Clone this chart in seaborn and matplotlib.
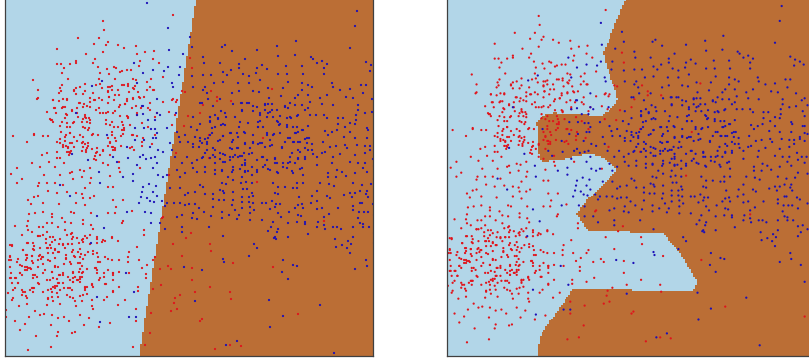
import matplotlib
matplotlib.use('Agg')
import matplotlib.pyplot as plt
from matplotlib.colors import ListedColormap
from matplotlib.path import Path
import pandas as pd
import seaborn as sb
import numpy as np

# points as (x, y) in pixels
red_points = [
    (173,15),(103,21),(104,30),(78,38),(99,38),(108,42),(106,45),(94,44),(118,45),(136,46),(57,49),(124,48),(86,54),(103,52),
    (137,54),(145,52),(154,51),(95,59),(93,63),(76,61),(76,63),(70,64),(57,64),(61,64),(64,68),(98,67),(114,67),(116,68),
    (107,69),(127,70),(131,70),(122,71),(120,72),(153,59),(159,63),(140,61),(139,66),(100,73),(62,73),(109,74),(68,79),(33,80),
    (99,79),(115,79),(133,79),(136,80),(151,79),(163,77),(38,90),(62,85),(61,91),(59,93),(60,88),(74,91),(76,88),(80,87),
    (85,84),(96,85),(100,84),(110,87),(108,91),(112,90),(122,85),(128,84),(135,86),(134,89),(129,92),(138,92),(147,90),(154,90),
    (37,99),(38,98),(53,100),(59,101),(63,99),(67,99),(80,103),(84,104),(90,98),(94,100),(99,98),(109,97),(114,100),(119,95),
    (127,101),(125,104),(133,99),(139,97),(144,97),(150,103),(163,102),(172,100),(176,102),(47,112),(54,108),(62,108),(63,107),
    (72,110),(77,108),(87,106),(90,107),(99,108),(108,112),(113,113),(119,107),(127,116),(136,106),(137,115),(141,108),(150,110),
    (157,113),(169,112),(51,120),(50,119),(53,122),(66,114),(65,118),(85,115),(83,119),(78,117),(74,122),(96,110),(100,113),
    (106,113),(120,116),(123,125),(128,117),(124,128),(60,126),(67,123),(70,127),(82,122),(86,118),(90,120),(90,123),(83,127),
    (106,120),(106,124),(110,125),(114,127),(118,127),(124,130),(148,127),(155,117),(175,115),(172,125),(13,136),(34,134),(48,136),
    (61,132),(66,135),(70,133),(74,137),(80,135),(85,128),(88,130),(93,134),(98,135),(112,135),(123,134),(133,135),(137,136),
    (155,135),(27,142),(43,136),(60,143),(65,141),(70,143),(77,141),(82,143),(85,144),(110,143),(112,147),(116,141),(142,142),
    (152,144),(63,145),(66,146),(68,147),(74,147),(83,147),(88,146),(92,149),(108,146),(113,147),(115,150),(132,147),(134,150),
    (69,152),(71,151),(86,152),(95,156),(103,150),(100,155),(60,158),(69,155),(70,153),(86,150),(94,159),(110,155),(119,162),
    (121,146),(142,146),(96,153),(57,158),(32,163),(17,168),(11,174),(22,179),(40,167),(44,175),(49,162),(55,167),(64,163),
    (70,173),(72,172),(80,170),(84,171),(90,168),(96,160),(103,163),(108,165),(119,168),(120,172),(140,168),(110,176),(60,175),
    (82,177),(73,179),(91,178),(42,155),(47,153),(34,135),(17,183),(39,183),(47,183),(55,183),(63,185),(38,186),(67,192),(57,193),
    (48,191),(76,193),(82,194),(85,188),(90,183),(108,187),(113,187),(94,196),(90,198),(83,198),(76,203),(85,205),(113,200),
    (123,200),(34,197),(38,196),(28,200),(31,204),(43,203),(59,204),(116,207),(132,211),(35,213),(43,212),(29,214),(52,214),
    (52,217),(71,212),(74,213),(91,213),(108,213),(115,213),(28,221),(15,226),(27,226),(39,227),(47,223),(43,227),(62,218),
    (65,222),(52,223),(58,227),(71,223),(83,220),(91,225),(83,224),(123,221),(122,223),(93,229),(144,230),(22,235),(28,230),
    (32,232),(38,236),(43,235),(47,232),(53,237),(65,230),(72,233),(73,237),(85,236),(83,239),(90,235),(97,237),(97,239),(112,237),
    (118,241),(144,235),(10,245),(12,246),(28,243),(33,243),(34,246),(46,243),(52,242),(50,245),(59,244),(63,245),(68,244),(72,244),
    (79,243),(83,242),(90,244),(97,243),(102,242),(105,241),(137,247),(23,250),(34,250),(48,248),(51,248),(55,250),(65,248),(59,252),
    (78,252),(88,252),(93,251),(97,253),(129,252),(10,256),(9,260),(27,255),(27,258),(32,256),(40,255),(43,257),(48,253),(53,253),
    (55,258),(66,258),(74,256),(81,254),(98,257),(100,262),(108,259),(112,260),(119,260),(128,257),(128,262),(139,260),(155,257),
    (153,260),(17,262),(22,266),(27,267),(30,268),(38,260),(43,264),(50,261),(55,267),(64,264),(70,262),(78,263),(80,269),(82,266),
    (87,269),(96,268),(104,273),(113,273),(119,272),(147,265),(142,268),(11,273),(20,273),(25,270),(33,275),(37,277),(43,273),
    (52,272),(59,275),(63,275),(73,273),(75,277),(80,277),(83,272),(97,273),(104,277),(113,275),(129,273),(146,274),(146,278),
    (10,278),(16,278),(18,283),(15,288),(39,284),(47,280),(50,280),(55,286),(59,283),(63,283),(70,280),(73,282),(78,280),(80,279),
    (87,287),(92,285),(99,280),(106,284),(43,292),(51,289),(57,286),(64,288),(70,288),(85,288),(93,287),(119,287),(138,287),(138,291),
    (8,293),(23,292),(30,290),(33,288),(22,295),(26,296),(52,297),(57,293),(70,297),(87,294),(113,292),(107,297),(12,300),(48,299),
    (53,301),(75,301),(82,301),(92,300),(104,300),(125,300),(19,306),(27,304),(47,305),(60,304),(76,306),(92,306),(93,309),(118,305),
    (6,310),(6,317),(29,317),(35,311),(40,315),(44,314),(52,315),(64,317),(58,318),(69,321),(80,315),(89,318),(136,309),(136,321),
    (15,321),(25,324),(51,325),(84,325),(110,323),(20,330),(36,336),(58,332),(57,336),(75,332),(72,333),(99,327),(51,347),(28,350),
    (133,347),(162,218),(163,217),(186,238),(173,244),(182,256),(168,266),(171,269),(160,269),(161,285),(153,289),(180,295),(175,298),
    (174,303),(177,309),(171,311),(151,313),(150,333),(145,345),(188,116),(184,126),(176,153),(182,91),(185,92),(177,100),(173,99),
    (169,175),(190,58),(192,68),(211,91),(272,89),(217,97),(217,101),(231,101),(203,105),(200,113),(263,138),(209,158),(209,135),
    (257,182),(191,233),(210,244),(211,251),(233,263),(273,267),(192,268),(192,280),(210,287),(195,292),(230,292),(231,299),(202,319),
    (200,321),(298,314),(230,345),(241,346),(215,349),(324,221),(381,324),
    # second, closer reading of the two dense red clouds
    (12,245),(27,243),(38,236),(40,236),(46,239),(50,237),(55,240),(60,239),(67,235),(71,234),(72,239),(77,238),(82,240),(87,238),
    (103,240),(112,238),(63,244),(68,244),(40,248),(47,248),(55,249),(73,250),(80,249),(23,250),(33,249),(72,252),(85,255),(93,254),
    (10,257),(26,255),(32,256),(39,256),(42,257),(58,252),(66,255),(75,257),(80,257),(11,260),(18,259),(26,260),(32,261),(41,259),
    (48,260),(66,259),(83,259),(98,262),(105,257),(20,265),(25,267),(28,268),(33,263),(38,267),(45,270),(55,266),(58,267),(71,264),
    (80,263),(95,268),(97,270),(10,267),(20,273),(27,270),(31,269),(35,275),(52,272),(60,275),(63,273),(73,272),(79,272),(82,273),
    (108,270),(113,273),(11,278),(15,278),(22,275),(33,278),(53,278),(57,279),(68,277),(73,278),(77,280),(82,277),(100,278),(12,283),
    (18,283),(38,283),(53,287),(58,283),(73,282),(80,282),(85,287),(92,284),(105,284),(113,280),(13,290),(22,290),(25,292),(32,288),
    (34,288),(48,290),(55,288),(60,290),(68,288),(72,290),(85,290),(33,292),(52,292),(83,295),(67,295),(13,298),(27,298),(48,298),
    (58,297),(73,298),(80,296),(113,291),
    (74,90),(76,94),(85,91),(83,94),(93,93),(102,88),(108,87),(112,86),(108,92),(118,90),(124,85),(128,86),(133,88),(147,82),(150,87),
    (153,90),(53,100),(67,100),(79,103),(83,107),(90,102),(95,100),(102,100),(109,97),(115,95),(108,103),(127,99),(125,104),(133,98),
    (140,98),(55,108),(56,113),(65,107),(72,111),(77,113),(103,113),(115,111),(120,105),(132,108),(137,113),(148,108),(52,120),(62,122),
    (67,115),(73,123),(85,117),(89,118),(87,122),(112,122),(122,122),(128,118),(67,127),(89,128),(112,132),(122,130),(130,125),(142,123),
    (70,133),(65,137),(60,139),(83,137),(92,135),(108,138),(115,138),(121,136),(132,135),(57,142),(72,143),(83,142),(88,143),(110,142),
    (143,138),(63,147),(68,148),(87,148),(97,148),(115,148),(57,152),(67,152),(82,151),(97,152),(103,151),(113,150),(130,148),
]
blue_points = [
    (147,3),(168,28),(169,50),(183,54),(190,37),(134,63),(168,67),(180,67),(153,70),(143,73),(164,71),(179,75),(102,81),(172,83),
    (137,83),(92,86),(173,87),(157,99),(157,113),(142,106),(143,106),(160,115),(137,115),(143,114),(76,113),(148,120),(155,120),
    (176,113),(135,128),(144,128),(151,129),(155,129),(167,128),(135,140),(157,133),(153,138),(156,138),(107,135),(144,140),(170,143),
    (177,132),(179,137),(185,135),(180,142),(188,142),(150,147),(158,150),(163,152),(127,147),(113,157),(172,150),(143,155),(140,157),
    (128,158),(146,159),(151,158),(155,157),(157,163),(137,165),(72,154),(88,160),(117,162),(153,168),(158,175),(133,174),(123,177),
    (99,172),(163,177),(167,175),(175,157),(182,163),(185,173),(180,177),(187,157),(177,170),
    (357,11),(355,26),(296,41),(277,46),(225,45),(222,47),(192,47),(232,51),(257,50),(350,48),(278,56),(295,55),(311,57),(313,59),
    (317,63),(322,61),(327,64),(245,59),(203,57),(204,63),(220,63),(239,64),(239,68),(257,68),(262,65),(267,69),(286,66),(302,66),
    (324,68),(366,62),(371,65),(370,71),(223,72),(231,70),(227,75),(192,76),(203,75),(211,75),(243,74),(249,76),(256,73),(278,74),
    (287,74),(303,74),(324,74),(223,82),(214,83),(238,83),(249,83),(260,80),(288,82),(302,83),(308,85),(332,83),(333,87),(193,87),
    (205,87),(268,88),(283,88),(312,87),(361,85),(366,85),(350,89),(340,90),(203,90),(207,93),(239,91),(253,91),(232,93),(259,92),
    (302,90),(298,95),(308,95),(320,98),(327,95),(346,97),(353,98),(363,93),(372,99),(200,103),(208,99),(220,99),(233,104),(241,103),
    (247,103),(253,106),(269,98),(281,96),(295,98),(310,102),(322,104),(333,105),(358,105),(265,104),(272,104),(285,107),(290,103),
    (213,106),(308,108),(305,110),(358,110),(221,111),(242,111),(260,113),(270,112),(297,116),(310,115),(316,115),(324,115),(338,118),
    (343,118),(356,115),(365,113),(372,112),(193,117),(210,117),(226,117),(218,118),(267,117),(273,117),(287,118),(291,118),(327,118),
    (356,120),(210,122),(240,122),(258,122),(278,122),(338,124),(350,123),(200,124),(221,125),(225,125),(279,125),(191,127),(212,128),
    (239,127),(258,127),(263,127),(287,127),(293,127),(297,127),(345,127),(355,124),(367,128),(197,130),(210,135),(231,133),(237,133),
    (244,132),(267,133),(274,134),(298,132),(303,130),(308,126),(325,131),(332,132),(337,130),(350,132),(368,130),(195,137),(200,138),
    (205,139),(223,136),(238,137),(253,143),(267,135),(290,138),(296,133),(305,139),(309,138),(328,135),(344,137),(355,138),(367,138),
    (193,144),(200,141),(207,142),(218,141),(232,142),(245,144),(262,143),(270,140),(285,142),(294,142),(300,142),(312,144),(323,142),
    (336,146),(345,145),(357,145),(365,146),(370,146),(193,147),(199,147),(207,150),(215,150),(232,149),(238,148),(258,144),(270,146),
    (282,148),(305,148),(312,150),(325,152),(330,147),(347,148),(365,153),(370,150),(203,157),(213,155),(223,154),(233,157),(240,156),
    (244,153),(249,154),(263,157),(275,159),(292,153),(300,152),(313,154),(317,157),(322,153),(333,157),(340,154),(355,155),(197,160),
    (220,159),(230,160),(238,157),(245,163),(257,160),(277,163),(283,163),(290,162),(298,159),(305,159),(332,163),(350,162),(358,163),
    (365,163),(192,163),(193,168),(215,163),(225,162),(242,165),(252,167),(263,167),(268,169),(287,168),(300,169),(317,165),(337,170),
    (363,168),(197,172),(215,174),(222,171),(233,170),(245,171),(257,172),(278,173),(293,173),(303,175),(328,173),(342,172),(355,173),
    (367,172),(228,177),(252,175),(242,177),(328,177),(336,177),(346,176),
    (200,185),(203,187),(222,183),(226,184),(233,180),(241,183),(246,182),(252,183),(273,183),(278,187),(285,187),(293,188),(297,183),
    (303,183),(320,183),(329,184),(334,186),(353,183),(362,185),(371,184),(220,190),(223,191),(233,192),(243,189),(247,189),(252,193),
    (275,193),(297,188),(317,191),(350,193),(360,191),(367,191),(195,192),(205,194),(213,194),(224,193),(242,197),(249,197),(253,196),
    (278,194),(299,197),(312,196),(327,196),(344,195),(355,193),(366,194),(213,199),(219,200),(224,200),(233,200),(242,202),(249,202),
    (272,201),(298,205),(317,201),(311,203),(330,198),(352,197),(360,203),(368,197),(195,204),(232,205),(253,203),(262,203),(266,203),
    (276,204),(280,204),(302,204),(353,206),(362,203),(213,207),(242,208),(250,207),(270,209),(275,207),(295,208),(303,208),(317,209),
    (322,208),(338,208),(353,210),(199,208),(193,213),(204,212),(222,212),(235,210),(229,215),(239,215),(250,213),(254,210),(278,213),
    (289,212),(298,215),(301,216),(329,214),(359,212),(364,212),(368,212),(211,216),(192,218),(197,219),(222,218),(237,219),(250,220),
    (262,220),(281,217),(297,222),(305,222),(324,217),(318,222),(358,218),(273,222),(288,223),(305,224),(324,225),(360,223),(363,224),
    (209,227),(271,227),(278,229),(317,227),(325,229),(333,227),(337,227),(341,229),(353,227),(363,227),(369,227),(268,231),(277,232),
    (308,234),(223,236),(275,237),(274,238),(276,239),(288,237),(335,239),(353,237),(348,241),(351,244),(254,244),(257,248),(336,247),
    (342,245),(347,248),(350,253),(249,256),(223,259),(224,262),(283,260),(366,260),(293,265),(297,266),(367,266),(202,270),(355,269),
    (282,272),(288,279),(195,301),(269,300),(320,305),(283,316),(270,327),(237,341),(226,345),(334,353),
    (60,185),(70,196),(100,183),(133,181),(143,187),(149,184),(156,186),(142,192),(153,192),(157,196),(141,197),(147,198),(139,203),
    (150,201),(154,202),(162,201),(127,212),(145,212),(97,216),(151,213),(151,223),(160,223),(165,229),(104,228),(91,243),(126,273),
    (134,292),(97,297),(129,317),(136,317),(100,322),(170,188),(180,188),(185,195),(165,206),(167,203),(174,203),(180,203),(185,205),
    (189,204),(182,215),(177,217),(182,227),(182,232),(184,267),(188,193),
    (381,104),(378,106),(384,111),(379,117),(381,122),(379,132),(381,132),(376,143),(381,139),(384,140),(376,145),(381,147),(373,159),
    (383,163),(378,163),(374,166),(381,169),(374,179),(384,180),(380,70),(376,67),(384,210),(374,215),(379,232),(374,233),(384,236),
    (377,239),(374,243),(381,289),(377,272),(376,206),(373,204),
    # second, closer reading of the dense blue cloud
    (202,103),(210,117),(215,115),(210,121),(218,119),(225,113),(235,117),(242,110),(242,103),(249,103),(253,111),(257,107),(265,105),
    (268,104),(260,115),(265,110),(268,113),(272,110),(277,110),(280,116),(285,106),(288,108),(295,105),(302,105),(290,117),(298,115),
    (277,121),(280,124),(287,125),(260,121),(258,127),(223,124),(215,127),(248,123),(212,133),(208,138),(223,136),(230,133),(245,133),
    (253,135),(273,135),(280,133),(295,133),(302,130),(307,138),(220,140),(233,140),(245,143),(253,142),(260,143),(288,138),(293,142),
    (298,142),(307,143),(202,143),(207,144),(213,148),(230,148),(237,148),(250,148),(265,147),(272,145),(282,147),(298,150),(308,150),
    (205,153),(220,153),(225,155),(235,155),(242,156),(252,153),(262,157),(275,158),(290,157),(305,157),(230,157),(210,158),(215,157),
    (223,162),(245,160),(267,160),(275,163),(288,163),(298,158),(202,158),(205,167),(233,167),(245,165),(265,165),(283,167),(295,163),
    (215,170),(222,170),(240,169),(248,171),(257,170),(270,170),(302,168),(205,172),(232,172),(245,172),(277,172),(292,171),
]

# class boundaries, in picture pixels of each panel
left_region = [(197, -6), (139, 356), (139, 370), (420, 370), (420, -6)]
right_region = [
    (625, -6), (625, 0), (616.7, 20), (610, 36.7), (603.3, 51.7), (606.7, 66.7), (613.3, 85), (618, 100), (613.3, 106.7),
    (603, 115), (598, 116), (580, 114), (553, 113), (541.7, 116), (536.7, 123), (537, 133), (539, 158), (543, 161.7),
    (563, 159), (580, 155), (593, 154), (601.7, 156.7), (610, 163), (617, 169.3), (601.7, 186.7), (586.7, 200), (576.7, 214),
    (588, 231.7), (626.7, 232), (663, 234), (675, 246.7), (680, 253), (697, 281.7), (693, 290.7), (680, 291.7), (641.7, 290),
    (606.7, 289), (573, 289), (556.7, 311.7), (540, 336.7), (536.7, 356), (536.7, 370), (840, 370), (840, -6),
]

light_blue = '#b2d6e8'
brown = '#bb6e35'
red = '#e0141c'
dark_blue = '#1c10b8'

points = pd.DataFrame(red_points + blue_points, columns=['x', 'y'])
points['label'] = ['red'] * len(red_points) + ['blue'] * len(blue_points)

# the right panel shows the same points with slightly wider limits
scale_x, shift_x = 0.9565, 440.2
scale_y, shift_y = 0.992, -4.9
right_data = [((px - shift_x) / scale_x, (py - shift_y) / scale_y) for px, py in right_region]

grid_x = np.arange(0, 400, 2.0)
grid_y = np.arange(-6, 372, 2.0)


def draw_panel(ax, region, xlim, ylim):
    xx, yy = np.meshgrid(grid_x + 1, grid_y + 1)
    inside = Path(region).contains_points(np.c_[xx.ravel(), yy.ravel()]).reshape(xx.shape)
    ax.pcolormesh(np.r_[grid_x, grid_x[-1] + 2], np.r_[grid_y, grid_y[-1] + 2], inside.astype(int),
                  cmap=ListedColormap([light_blue, brown]), vmin=0, vmax=1, zorder=1)
    sb.scatterplot(data=points, x='x', y='y', hue='label', palette={'red': red, 'blue': dark_blue},
                   s=2.6, linewidth=0, legend=False, ax=ax, zorder=2)
    ax.set_xlim(xlim)
    ax.set_ylim(ylim)
    ax.set_xlabel('')
    ax.set_ylabel('')
    ax.set_xticks([])
    ax.set_yticks([])
    for side in ['left', 'right', 'bottom']:
        ax.spines[side].set_color('#404040')
        ax.spines[side].set_linewidth(0.9)
    ax.spines['top'].set_visible(False)


fig = plt.figure(figsize=[8.09, 3.6], dpi=100)
ax_left = fig.add_axes([5 / 809, 4 / 360, 368 / 809, 358 / 360])
ax_right = fig.add_axes([446.5 / 809, 4 / 360, 368 / 809, 358 / 360])

draw_panel(ax_left, left_region, (5, 373), (356, -2))
draw_panel(ax_right, right_data, (6.6, 391.3), (363.8, 2.9))

fig.savefig('out.png', dpi=100)
